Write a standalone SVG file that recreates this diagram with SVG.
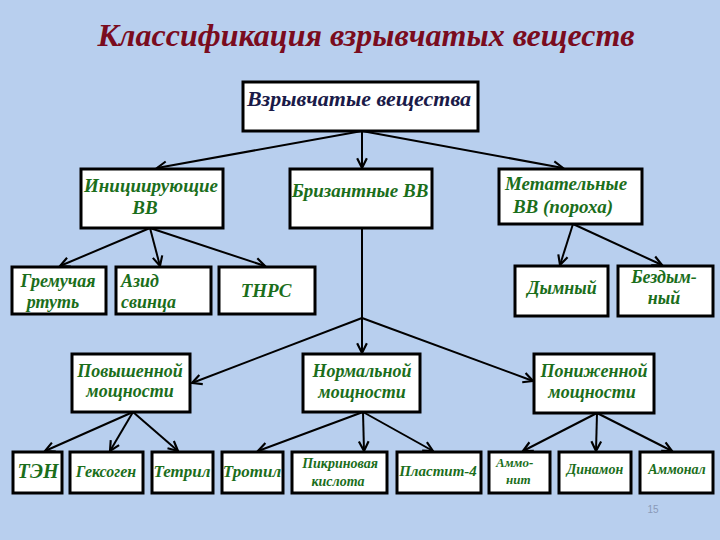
<svg xmlns="http://www.w3.org/2000/svg" width="720" height="540" viewBox="0 0 720 540">
<defs>
<marker id="arr" markerUnits="userSpaceOnUse" markerWidth="14" markerHeight="14" viewBox="-11 -6 13 12" refX="0" refY="0" orient="auto">
<path d="M-9,-4.5 L0,0 L-9,4.5" fill="none" stroke="#000" stroke-width="2"/>
</marker>
</defs>
<style>
.box{fill:#fff;stroke:#000;stroke-width:3}
.t{font-family:"Liberation Serif","DejaVu Serif",serif;font-style:italic;font-weight:bold;fill:#1b6e1b;font-size:17px;text-anchor:middle}
.s{text-anchor:start}
.c{stroke:#000;stroke-width:2;fill:none;marker-end:url(#arr)}
.p{stroke:#000;stroke-width:2;fill:none}
</style>
<rect width="720" height="540" fill="#b8cfee"/>
<text x="366" y="46" font-family="'Liberation Serif','DejaVu Serif',serif" font-style="italic" font-weight="bold" font-size="32" fill="#7a0c1e" text-anchor="middle">Классификация взрывчатых веществ</text>

<g id="connectors">
<line class="c" x1="362" y1="131" x2="157" y2="168"/>
<line class="c" x1="362" y1="131" x2="362" y2="168"/>
<line class="c" x1="362" y1="131" x2="563" y2="168"/>
<line class="c" x1="150" y1="228" x2="60" y2="266"/>
<line class="c" x1="150" y1="228" x2="160" y2="266"/>
<line class="c" x1="150" y1="228" x2="265" y2="266"/>
<line class="c" x1="573" y1="224" x2="560" y2="265"/>
<line class="c" x1="573" y1="224" x2="662" y2="265"/>
<line class="p" x1="362" y1="228" x2="362" y2="318"/>
<line class="c" x1="362" y1="318" x2="192" y2="383"/>
<line class="c" x1="362" y1="318" x2="362" y2="353"/>
<line class="c" x1="362" y1="318" x2="533" y2="381"/>
<line class="c" x1="133" y1="412" x2="45" y2="451"/>
<line class="c" x1="133" y1="412" x2="110" y2="451"/>
<line class="c" x1="133" y1="412" x2="178" y2="451"/>
<line class="c" x1="363" y1="412" x2="258" y2="451"/>
<line class="c" x1="363" y1="412" x2="364" y2="451"/>
<line class="c" x1="363" y1="412" x2="433" y2="451"/>
<line class="c" x1="597" y1="413" x2="523" y2="451"/>
<line class="c" x1="597" y1="413" x2="596" y2="451"/>
<line class="c" x1="597" y1="413" x2="672" y2="451"/>
</g>

<g id="root"><rect class="box" x="243" y="82" width="235" height="49"/>
<text x="359" y="106" font-family="'Liberation Serif','DejaVu Serif',serif" font-style="italic" font-weight="bold" font-size="22" fill="#1a1a48" text-anchor="middle">Взрывчатые вещества</text></g>

<g id="init"><rect class="box" x="81" y="169" width="142" height="59"/>
<text class="t" x="151" y="192" style="font-size:19px">Инициирующие</text><text class="t" x="145" y="214" style="font-size:19px">ВВ</text></g>
<g id="briz"><rect class="box" x="290" y="169" width="142" height="59"/>
<text class="t" x="360" y="197" style="font-size:19px">Бризантные ВВ</text></g>
<g id="metat"><rect class="box" x="499" y="169" width="143" height="55"/>
<text class="t" x="566" y="190" style="font-size:19px">Метательные</text><text class="t" x="563" y="213" style="font-size:19px">ВВ (пороха)</text></g>

<g id="gremuch"><rect class="box" x="12" y="267" width="94" height="47"/>
<text class="t" x="58" y="287" style="font-size:18px">Гремучая</text><text class="t" x="53" y="308" style="font-size:18px">ртуть</text></g>
<g id="azid"><rect class="box" x="116" y="267" width="95" height="47"/>
<text class="t s" x="121" y="287" style="font-size:18px">Азид</text><text class="t s" x="121" y="308" style="font-size:18px">свинца</text></g>
<g id="tnrs"><rect class="box" x="219" y="267" width="96" height="47"/>
<text class="t" x="266" y="297" style="font-size:19px">ТНРС</text></g>
<g id="dym"><rect class="box" x="515" y="266" width="93" height="50"/>
<text class="t" x="562" y="294" style="font-size:18px">Дымный</text></g>
<g id="bezdym"><rect class="box" x="618" y="266" width="95" height="50"/>
<text class="t" x="664" y="283" style="font-size:18px">Бездым-</text><text class="t" x="664" y="304" style="font-size:18px">ный</text></g>

<g id="povysh"><rect class="box" x="72" y="354" width="118" height="58"/>
<text class="t" x="130" y="377" style="font-size:18px">Повышенной</text><text class="t" x="130" y="397" style="font-size:18px">мощности</text></g>
<g id="normal"><rect class="box" x="303" y="354" width="117" height="58"/>
<text class="t" x="362" y="377" style="font-size:18px">Нормальной</text><text class="t" x="362" y="398" style="font-size:18px">мощности</text></g>
<g id="ponizh"><rect class="box" x="534" y="354" width="120" height="59"/>
<text class="t" x="594" y="377" style="font-size:18px">Пониженной</text><text class="t" x="592" y="398" style="font-size:18px">мощности</text></g>

<g id="ten"><rect class="box" x="13" y="452" width="49" height="41"/>
<text class="t" x="38" y="478" style="font-size:20px">ТЭН</text></g>
<g id="geksogen"><rect class="box" x="70" y="452" width="73" height="41"/>
<text class="t" x="106" y="477" style="font-size:16px">Гексоген</text></g>
<g id="tetril"><rect class="box" x="152" y="452" width="61" height="41"/>
<text class="t" x="182" y="477" style="font-size:17px">Тетрил</text></g>
<g id="trotil"><rect class="box" x="222" y="452" width="61" height="41"/>
<text class="t" x="252" y="477" style="font-size:17px">Тротил</text></g>
<g id="pikrin"><rect class="box" x="292" y="452" width="95" height="41"/>
<text class="t" x="340" y="468" style="font-size:14px">Пикриновая</text><text class="t" x="338" y="486" style="font-size:14px">кислота</text></g>
<g id="plastit"><rect class="box" x="397" y="452" width="84" height="41"/>
<text class="t" x="438" y="476" style="font-size:15px">Пластит-4</text></g>
<g id="ammonit"><rect class="box" x="489" y="452" width="61" height="41"/>
<text class="t s" x="496" y="467" style="font-size:13px">Аммо-</text><text class="t s" x="506" y="484" style="font-size:13px">нит</text></g>
<g id="dinamon"><rect class="box" x="559" y="452" width="72" height="41"/>
<text class="t" x="595" y="474" style="font-size:14px">Динамон</text></g>
<g id="ammonal"><rect class="box" x="640" y="452" width="73" height="41"/>
<text class="t" x="677" y="474" style="font-size:14px">Аммонал</text></g>

<text x="653" y="513" font-family="'Liberation Sans',sans-serif" font-size="10" fill="#8a9ab8" text-anchor="middle">15</text>
</svg>
